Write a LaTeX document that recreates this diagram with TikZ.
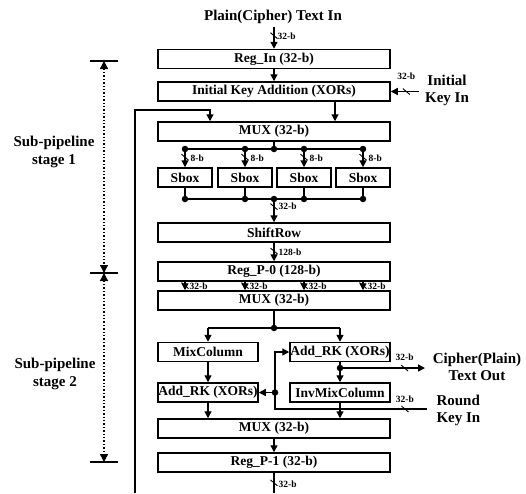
\documentclass[tikz,border=0pt]{standalone}
\usepackage{fontspec}
\setmainfont{Liberation Serif}
\usepackage{tikz}
\usetikzlibrary{arrows.meta,positioning,calc}

\tikzset{
  blk/.style={draw, line width=1.5pt, minimum height=19pt, inner sep=0pt, font=\bfseries\fontsize{13.5}{15}\selectfont},
  wide/.style={blk, minimum width=232pt},
  sbx/.style={blk, minimum width=54pt},
  half/.style={blk, minimum width=100pt},
  lin/.style={line width=1.3pt},
  wire/.style={lin, -{Triangle[length=7pt,width=7pt]}},
  stg/.style={dotted, line width=1.4pt, {Triangle[length=8pt,width=8pt]}-{Triangle[length=8pt,width=8pt]}},
  jn/.style={circle, fill, inner sep=0pt, minimum size=6.5pt},
  bw/.style={font=\bfseries\fontsize{9.5}{10}\selectfont, inner sep=1pt},
  ttl/.style={font=\bfseries\fontsize{15}{17}\selectfont, align=center},
  bus/.pic={\draw[-, solid, line width=0.9pt] (-3.5,-3) -- (3.5,3);}
}

\begin{document}
\begin{tikzpicture}[x=1pt,y=-1pt]
  \useasboundingbox (0,0) rectangle (526,493); % 画像全体の大きさ
  \node[wide] (regin) at (274,59) {Reg\_In (32-b)}; % 入力レジスタ
  \node[wide] (ika) at (274,91.5) {Initial Key Addition (XORs)}; % 初期鍵加算
  \node[wide] (mux1) at (274,131.5) {MUX (32-b)}; % 1段目のMUX
  \node[sbx] (sb1) at (185,177.5) {Sbox}; % Sbox 1
  \node[sbx] (sb2) at (245,177.5) {Sbox}; % Sbox 2
  \node[sbx] (sb3) at (304,177.5) {Sbox}; % Sbox 3
  \node[sbx] (sb4) at (363,177.5) {Sbox}; % Sbox 4
  \node[wide] (shift) at (274,232.5) {ShiftRow}; % ShiftRow
  \node[wide] (regp0) at (274,271.5) {Reg\_P-0 (128-b)}; % パイプラインレジスタ0
  \node[wide] (mux2) at (274,300.5) {MUX (32-b)}; % 2段目のMUX
  \node[half] (mixc) at (208,352) {MixColumn}; % MixColumn
  \node[half] (ark1) at (340,352) {Add\_RK (XORs)}; % 右側の鍵加算
  \node[half] (ark2) at (208,392.5) {Add\_RK (XORs)}; % 左側の鍵加算
  \node[half] (imixc) at (340,392.5) {InvMixColumn}; % InvMixColumn
  \node[wide] (mux3) at (274,428.5) {MUX (32-b)}; % 3段目のMUX
  \node[wide] (regp1) at (274,462.5) {Reg\_P-1 (32-b)}; % パイプラインレジスタ1

  \node[ttl] (ptin) at (273,17) {Plain(Cipher) Text In}; % 入力の見出し
  \node[ttl] (kin) at (447,90) {Initial\\Key In}; % 初期鍵の見出し
  \node[ttl] (ctout) at (477,367) {Cipher(Plain)\\Text Out}; % 出力の見出し
  \node[ttl, align=left, anchor=west] (rkin) at (433,410) {Round\\Key In}; % ラウンド鍵の見出し
  \node[ttl, font=\bfseries\fontsize{15}{18}\selectfont] (st1) at (54,152) {Sub-pipeline\\stage 1}; % 段1
  \node[ttl, font=\bfseries\fontsize{15}{18}\selectfont] (st2) at (55,374) {Sub-pipeline\\stage 2}; % 段2

  \coordinate (in) at (274,27); % 入力線の上端
  \coordinate (kin0) at (419,91.5); % 初期鍵線の右端
  \coordinate (fbbot) at (135,493); % 帰還線の下端
  \coordinate (fbtop) at (135,110); % 帰還線の角
  \coordinate (d1) at (274,149); % Sbox前の分岐
  \coordinate (d2) at (274,199); % Sbox後の合流
  \coordinate (d3) at (274,328); % MUX2後の分岐
  \coordinate (d4) at (340,368); % 出力の分岐
  \coordinate (d5) at (275,392.5); % ラウンド鍵の分岐
  \coordinate (out) at (425,368); % 出力線の右端
  \coordinate (rk0) at (427,409); % ラウンド鍵線の右端
  \coordinate (rkc) at (275,409); % ラウンド鍵線の角
  \coordinate (outbot) at (274,493); % 出力線の下端

  \draw[wire] (in) -- pic[pos=0.4]{bus} node[bw,pos=0.42,right=2pt]{32-b} (regin.north); % 入力
  \draw[wire] (regin) -- (ika); % Reg_In から鍵加算へ
  \draw[wire] (kin0) -- pic[pos=0.45]{bus} node[bw,pos=0.45,above=10pt]{32-b} (ika.east); % 初期鍵
  \draw[wire] ([xshift=61pt]ika.south) -- ([xshift=61pt]mux1.north); % 鍵加算からMUXへ
  \draw[wire] (fbbot) -- (fbtop) -| ([xshift=-64pt]mux1.north); % 帰還線
  \draw[lin] (mux1) -- (d1); % MUX1の出力
  \draw[lin] (sb1.north |- d1) -- (sb4.north |- d1); % 上の横線
  \draw[lin] (sb1.south |- d2) -- (sb4.south |- d2); % 下の横線
  \foreach \sb in {sb1,sb2,sb3,sb4} {
    \draw[wire] (\sb.north |- d1) -- pic[pos=0.45]{bus} node[bw,pos=0.5,right=4pt]{8-b} (\sb.north); % Sboxへの入力
    \node[jn] (t\sb) at (\sb.north |- d1) {}; % 上の黒丸
    \draw[lin] (\sb.south) -- (\sb.south |- d2); % Sboxの出力
    \node[jn] (b\sb) at (\sb.south |- d2) {}; % 下の黒丸
    \draw[wire] (\sb.south |- regp0.south) -- pic[pos=0.45]{bus} node[bw,pos=0.55,right=3pt]{32-b} (\sb.south |- mux2.north); % Reg_P-0からMUX2へ
  }
  \node[jn] (jd1) at (d1) {}; % 分岐の黒丸
  \node[jn] (jd2) at (d2) {}; % 合流の黒丸
  \draw[wire] (d2) -- pic[pos=0.33]{bus} node[bw,pos=0.3,right=3pt]{32-b} (shift.north); % ShiftRowへ
  \draw[wire] (shift) -- pic[pos=0.45]{bus} node[bw,pos=0.5,right=3pt]{128-b} (regp0); % Reg_P-0へ
  \draw[lin] (mux2) -- (d3); % MUX2の出力
  \draw[lin] (mixc.north |- d3) -- (ark1.north |- d3); % 横線
  \draw[wire] (mixc.north |- d3) -- (mixc); % MixColumnへ
  \draw[wire] (ark1.north |- d3) -- (ark1); % 右の鍵加算へ
  \node[jn] (jd3) at (d3) {}; % 黒丸
  \draw[wire] (mixc) -- (ark2); % MixColumnから鍵加算へ
  \draw[lin] (ark1) -- (d4); % 右の鍵加算の出力
  \draw[wire] (d4) -- (imixc); % InvMixColumnへ
  \draw[wire] (d4) -- pic[pos=0.76]{bus} node[bw,pos=0.76,above=6pt]{32-b} (out); % 出力
  \node[jn] (jd4) at (d4) {}; % 黒丸
  \draw[wire] (rk0) -- pic[pos=0.145]{bus} node[bw,pos=0.145,above=5pt]{32-b} (rkc) |- (ark1.west); % ラウンド鍵
  \draw[wire] (d5) -- (ark2.east); % 左の鍵加算へ
  \node[jn] (jd5) at (d5) {}; % 黒丸
  \draw[wire] (imixc.south) -- (imixc.south |- mux3.north); % InvMixColumnからMUX3へ
  \draw[wire] (ark2.south) -- (ark2.south |- mux3.north); % 左の鍵加算からMUX3へ
  \draw[wire] (mux3) -- (regp1); % MUX3からReg_P-1へ
  \draw[lin] (regp1.south) -- pic[pos=0.5]{bus} node[bw,pos=0.55,right=3pt]{32-b} (outbot); % 出力

  \coordinate (t0) at (104,61); % 段の上端
  \coordinate (t1) at (104,273); % 段の境目
  \coordinate (t2) at (104,462); % 段の下端
  \foreach \t in {t0,t1,t2} {
    \draw[lin] ([xshift=-14pt]\t) -- ([xshift=14pt]\t); % 目盛り
  }
  \draw[stg] (t0) -- (t1); % 段1の範囲
  \draw[stg] (t1) -- (t2); % 段2の範囲
\end{tikzpicture}
\end{document}
